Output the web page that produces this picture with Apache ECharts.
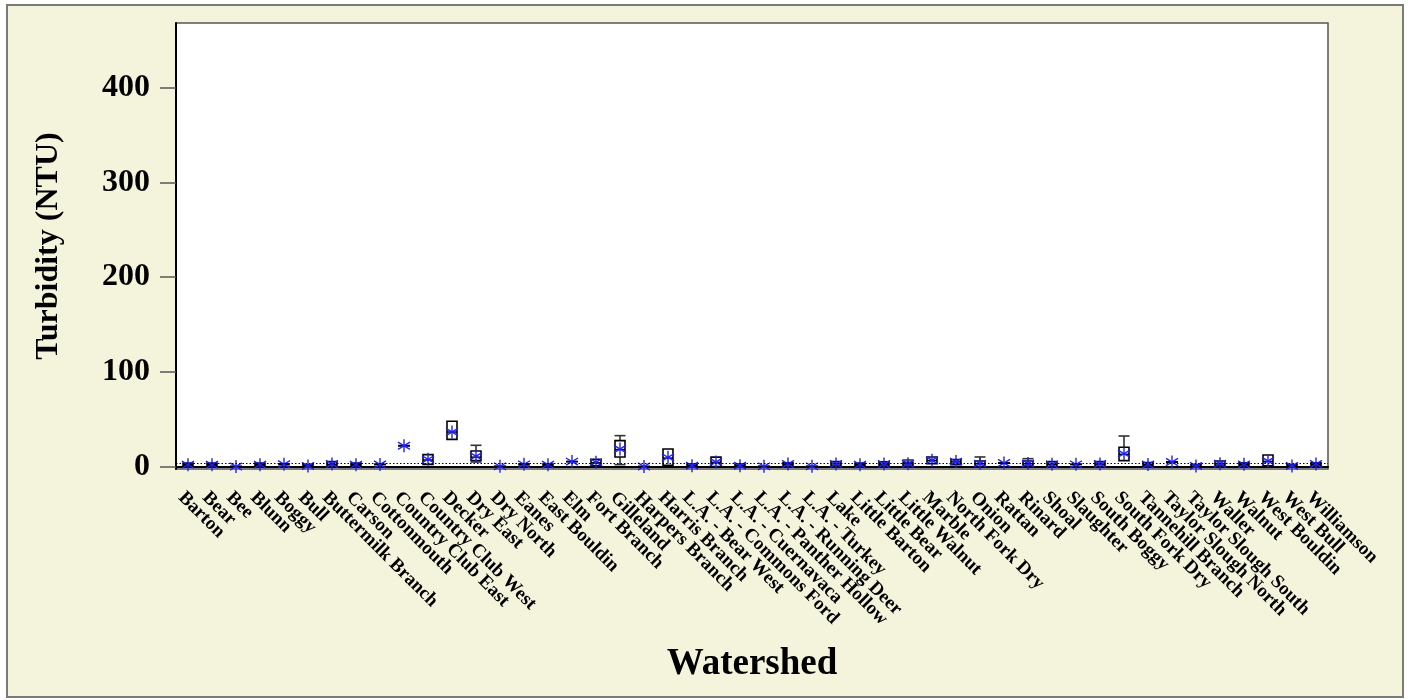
<!DOCTYPE html>
<html>
<head>
<meta charset="utf-8">
<script src="https://cdn.jsdelivr.net/npm/echarts@6/dist/echarts.min.js"></script>
<style>
html,body{margin:0;padding:0;background:#fff;}
#frame{position:absolute;left:6px;top:4px;width:1394px;height:690px;background:#F4F4DC;border:2px solid #7a7a7a;}
#chart{position:absolute;left:0;top:0;width:1408px;height:700px;}
</style>
</head>
<body>
<div id="frame"></div>
<div id="chart"></div>
<script>
const categories = ["Barton","Bear","Bee","Blunn","Boggy","Bull","Buttermilk Branch","Carson","Cottonmouth","Country Club East","Country Club West","Decker","Dry East","Dry North","Eanes","East Bouldin","Elm","Fort Branch","Gilleland","Harpers Branch","Harris Branch","L.A. - Bear West","L.A. - Commons Ford","L.A. - Cuernavaca","L.A. - Panther Hollow","L.A. - Running Deer","L.A. - Turkey","Lake","Little Barton","Little Bear","Little Walnut","Marble","North Fork Dry","Onion","Rattan","Rinard","Shoal","Slaughter","South Boggy","South Fork Dry","Tannehill Branch","Taylor Slough North","Taylor Slough South","Waller","Walnut","West Bouldin","West Bull","Williamson"];
const minVals    = [0.8,0.8,0.2,0.8,2.0,0.0,0.6,0.8,2.3,22,2.4,28.8,4.9,0.3,1.8,1.5,5.3,1.0,2.1,0.1,1.4,0.0,0.2,0.0,0.3,0.5,0.3,1.0,0.8,1.0,0.7,3.2,2.1,0.0,3.8,0.7,0.0,2.0,0.0,6.3,1.0,4.9,0.0,1.0,1.0,1.0,0.0,1.0];
const q1Vals     = [0.8,0.8,0.2,0.8,2.0,0.0,0.6,0.8,2.3,22,2.4,28.8,6.5,0.3,1.8,1.5,5.3,1.0,10.1,0.1,1.4,0.0,0.2,0.0,0.3,0.5,0.3,1.0,0.8,1.0,0.7,3.2,2.1,0.0,3.8,0.7,0.0,2.0,0.0,6.3,1.0,4.9,0.0,1.0,1.0,1.0,0.0,1.0];
const medianVals = [2.0,2.0,0.2,2.0,2.5,0.7,2.5,2.0,2.3,22,7.0,36.5,10.0,0.3,2.3,2.0,5.3,4.0,18.0,0.1,9.0,1.0,4.5,1.0,0.3,2.5,0.3,2.8,2.0,2.6,2.8,6.5,5.0,3.0,3.8,3.0,2.2,2.4,2.6,13.0,2.0,4.9,0.5,2.8,2.3,5.5,0.5,2.5];
const q3Vals     = [3.8,3.8,0.2,3.8,3.0,1.8,5.3,3.8,2.3,22,12.7,47.8,16.5,0.3,3.0,2.8,5.3,7.7,27.4,0.1,18.6,2.8,10.0,2.8,0.3,4.0,0.3,5.3,3.8,5.0,4.5,10.1,7.4,6.0,3.8,5.9,5.3,2.8,5.3,20.4,4.2,4.9,2.2,6.0,4.0,12.2,2.0,4.0];
const maxVals    = [3.8,3.8,0.2,3.8,3.0,1.8,5.3,3.8,2.3,22,12.7,47.8,22.5,0.3,3.0,2.8,5.3,7.7,32.7,0.1,18.6,2.8,10.0,2.8,0.3,4.0,0.3,5.3,3.8,5.0,7.0,10.1,7.4,10.2,3.8,8.4,5.3,2.8,5.3,32.3,4.2,4.9,2.2,6.0,4.0,12.2,2.0,4.0];
const meanVals   = [2.1,2.1,0.2,2.1,2.5,0.6,2.8,2.1,2.3,22,7.7,36.5,10.9,0.3,2.4,2.1,5.3,4.5,18.6,0.1,9.8,1.0,4.9,1.0,0.3,2.8,0.3,2.9,2.1,2.8,3.0,6.7,5.3,3.2,3.8,3.3,2.4,2.4,2.8,13.7,2.2,4.9,0.7,3.0,2.4,5.9,0.7,2.8];
const yTicks = [0, 100, 200, 300, 400];
const yMin = -2.5, yMax = 468;
const refLine = 3.2;

const data = categories.map((c, i) => [i, minVals[i], q1Vals[i], medianVals[i], q3Vals[i], maxVals[i], meanVals[i]]);

const serif = '"Liberation Serif", "Times New Roman", serif';
const chart = echarts.init(document.getElementById('chart'), null, {renderer: 'canvas'});

function renderItem(params, api) {
  const i = api.value(0);
  const x = api.coord([i, 0])[0];
  const yv = k => api.coord([i, api.value(k)])[1];
  const yMinP = yv(1), yQ1 = yv(2), yMed = yv(3), yQ3 = yv(4), yMaxP = yv(5), yMean = yv(6);
  const bw = 10, cw = 11;
  const ch = [];
  const black = {stroke: '#000', lineWidth: 1.5};
  const whisk = {stroke: '#333', lineWidth: 1.6};
  if (yMaxP < yQ3 - 0.5) {
    ch.push({type: 'line', shape: {x1: x, y1: yQ3, x2: x, y2: yMaxP}, style: whisk});
    ch.push({type: 'line', shape: {x1: x - cw/2, y1: yMaxP, x2: x + cw/2, y2: yMaxP}, style: whisk});
  }
  if (yMinP > yQ1 + 0.5) {
    ch.push({type: 'line', shape: {x1: x, y1: yQ1, x2: x, y2: yMinP}, style: whisk});
    ch.push({type: 'line', shape: {x1: x - cw/2, y1: yMinP, x2: x + cw/2, y2: yMinP}, style: whisk});
  }
  const h = yQ1 - yQ3;
  if (h > 0.8) {
    ch.push({type: 'rect', shape: {x: x - bw/2, y: yQ3, width: bw, height: h}, style: {fill: '#fff', stroke: '#000', lineWidth: 1.6}});
    ch.push({type: 'line', shape: {x1: x - bw/2, y1: yMed, x2: x + bw/2, y2: yMed}, style: black});
  } else {
    ch.push({type: 'line', shape: {x1: x - bw/2 - 1, y1: yMed, x2: x + bw/2 + 1, y2: yMed}, style: {stroke: '#000', lineWidth: 2}});
  }
  const blue = {stroke: '#1f1fff', lineWidth: 1.4};
  const a = 6.5, dx = 6, dy = 3.6;
  ch.push({type: 'line', shape: {x1: x, y1: yMean - a, x2: x, y2: yMean + a}, style: blue});
  ch.push({type: 'line', shape: {x1: x - dx, y1: yMean - dy, x2: x + dx, y2: yMean + dy}, style: blue});
  ch.push({type: 'line', shape: {x1: x - dx, y1: yMean + dy, x2: x + dx, y2: yMean - dy}, style: blue});
  return {type: 'group', children: ch};
}

chart.setOption({
  backgroundColor: 'transparent',
  animation: false,
  grid: {left: 176, top: 23, right: 80, bottom: 231, show: true, backgroundColor: '#fff', borderColor: '#555', borderWidth: 1.5},
  xAxis: {
    type: 'category',
    data: categories,
    boundaryGap: true,
    name: 'Watershed',
    nameLocation: 'middle',
    nameGap: 177,
    nameTextStyle: {fontFamily: serif, fontWeight: 'bold', fontSize: 37, color: '#000'},
    axisLine: {lineStyle: {color: '#000', width: 2}},
    axisTick: {alignWithLabel: true, length: 10, interval: 0, lineStyle: {color: '#000', width: 1.2}},
    axisLabel: {interval: 0, rotate: -45, margin: 19, verticalAlign: 'top', fontFamily: serif, fontWeight: 'bold', fontSize: 19, color: '#000'},
    splitLine: {show: false}
  },
  yAxis: {
    type: 'value',
    min: yMin,
    max: yMax,
    name: 'Turbidity (NTU)',
    nameLocation: 'middle',
    nameGap: 111,
    nameTextStyle: {fontFamily: serif, fontWeight: 'bold', fontSize: 32, color: '#000'},
    axisLine: {show: true, lineStyle: {color: '#000', width: 2}},
    axisTick: {show: true, length: 16, customValues: yTicks, lineStyle: {color: '#555', width: 1.5}},
    axisLabel: {customValues: yTicks, margin: 26, fontFamily: serif, fontWeight: 'bold', fontSize: 32, color: '#000'},
    splitLine: {show: false}
  },
  series: [{
    type: 'custom',
    renderItem: renderItem,
    encode: {x: 0, y: [1, 2, 3, 4, 5, 6]},
    data: data,
    markLine: {
      silent: true,
      symbol: ['none', 'none'],
      label: {show: false},
      lineStyle: {type: [1.5, 2], color: '#000', width: 1},
      data: [{yAxis: refLine}]
    }
  }]
});
</script>
</body>
</html>
